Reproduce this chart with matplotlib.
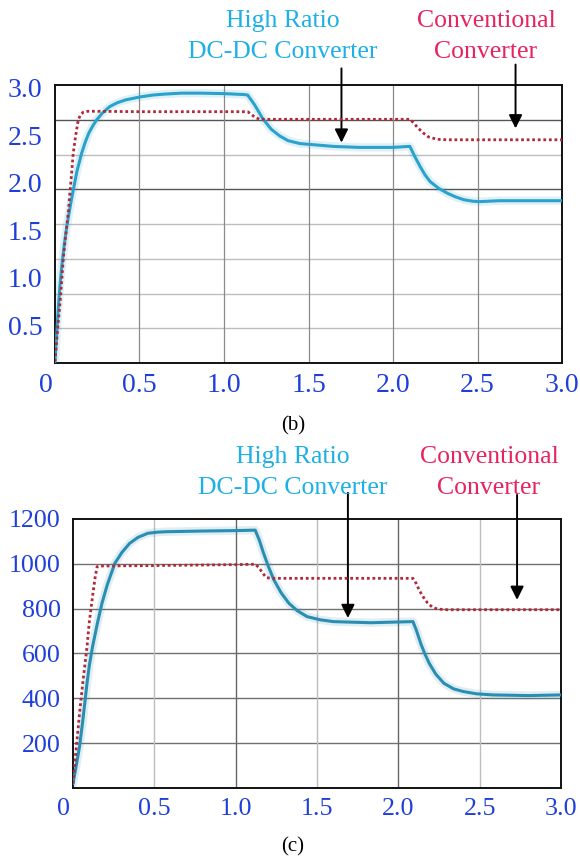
import matplotlib.pyplot as plt
import matplotlib.transforms as mtransforms
import numpy as np

# (b) top panel, values in label units
hr_b_x = [0.0, 0.01, 0.02, 0.03, 0.04, 0.055, 0.07, 0.09, 0.108, 0.13, 0.158, 0.18, 0.2,
          0.225, 0.247, 0.28, 0.325, 0.37, 0.42, 0.503, 0.58, 0.65, 0.75, 0.858, 1.0, 1.12,
          1.14, 1.18, 1.23, 1.28, 1.33, 1.38, 1.45, 1.55, 1.65, 1.8, 2.0, 2.09, 2.10,
          2.13, 2.16, 2.19, 2.22, 2.27, 2.32, 2.37, 2.42, 2.47, 2.51, 2.63, 3.0]
hr_b_y = [0.12, 0.40, 0.70, 0.93, 1.12, 1.35, 1.54, 1.75, 1.92, 2.12, 2.31, 2.43, 2.52,
          2.60, 2.66, 2.73, 2.80, 2.84, 2.87, 2.90, 2.92, 2.93, 2.94, 2.94, 2.935, 2.925,
          2.92, 2.82, 2.67, 2.56, 2.49, 2.44, 2.41, 2.395, 2.38, 2.37, 2.37, 2.38, 2.38,
          2.27, 2.17, 2.08, 2.01, 1.94, 1.89, 1.85, 1.82, 1.805, 1.80, 1.81, 1.81]
conv_b_x = [0.0, 0.015, 0.03, 0.05, 0.065, 0.08, 0.095, 0.108, 0.123, 0.138, 0.15, 0.167,
            0.197, 0.5, 1.0, 1.14, 1.16, 1.18, 1.21, 2.10, 2.12, 2.15, 2.18, 2.21, 2.26,
            2.32, 3.0]
conv_b_y = [0.12, 0.45, 0.74, 1.22, 1.47, 1.71, 2.03, 2.31, 2.50, 2.66, 2.71, 2.74,
            2.75, 2.745, 2.745, 2.745, 2.72, 2.69, 2.665, 2.665, 2.63, 2.57, 2.52, 2.48, 2.455,
            2.45, 2.45]

# (c) bottom panel
hr_c_x = [0.0, 0.02, 0.04, 0.06, 0.086, 0.1, 0.12, 0.15, 0.178, 0.21, 0.257, 0.3, 0.348,
          0.4, 0.46, 0.52, 0.576, 0.8, 1.0, 1.12, 1.145, 1.17, 1.2, 1.235, 1.28, 1.327, 1.38,
          1.44, 1.52, 1.60, 1.83, 2.09, 2.11, 2.14, 2.165, 2.19, 2.23, 2.28, 2.34, 2.40, 2.48,
          2.58, 2.8, 3.0]
hr_c_y = [20, 100, 184, 300, 467, 545, 630, 735, 824, 905, 1002, 1050, 1091,
          1118, 1136, 1141, 1143, 1146, 1148, 1150, 1106, 1050, 990, 928, 870, 824, 790,
          764, 750, 742, 737, 742, 705, 640, 595, 556, 508, 467, 442, 430, 420,
          415, 412, 415]
conv_c_x = [0.0, 0.02, 0.04, 0.06, 0.086, 0.1, 0.12, 0.135, 0.148, 0.17, 0.5, 1.0, 1.12,
            1.14, 1.16, 1.175, 1.19, 1.22, 2.09, 2.11, 2.13, 2.155, 2.18, 2.21, 2.24, 2.3, 3.0]
conv_c_y = [20, 180, 333, 470, 630, 740, 854, 935, 987, 990, 992, 996, 998,
            985, 965, 950, 938, 935, 935, 912, 880, 850, 825, 806, 798, 795, 795]

x_ticks = [0, 0.5, 1.0, 1.5, 2.0, 2.5, 3.0]
x_labels = ['0', '0.5', '1.0', '1.5', '2.0', '2.5', '3.0']
yb_ticks = [0.5, 1.0, 1.5, 2.0, 2.5, 3.0]
yb_labels = ['0.5', '1.0', '1.5', '2.0', '2.5', '3.0']
yc_ticks = [200, 400, 600, 800, 1000, 1200]

plt.rcParams['font.family'] = ['Liberation Serif', 'DejaVu Serif']

tick_blue = '#1f3fd8'
hr_text = '#1db0e6'
conv_text = '#e8245f'
hr_line = '#2aa2cc'
hr_line_c = '#2a8db2'
conv_line = '#b02a3a'

fig = plt.figure(figsize=(5.8, 8.59), dpi=100)
ax1 = fig.add_axes([0.0948, 0.5774, 0.8742, 0.3236])
ax2 = fig.add_axes([0.1259, 0.0827, 0.8413, 0.3132])


def style(ax, ylim, size):
    ax.set_xlim(0, 3.0)
    ax.set_ylim(*ylim)
    ax.set_xticks(x_ticks)
    ax.set_xticklabels(x_labels)
    ax.tick_params(length=0, labelsize=size, labelcolor=tick_blue)
    ax.tick_params(axis='x', pad=7)
    ax.tick_params(axis='y', pad=9)
    for s in ax.spines.values():
        s.set_linewidth(1.4)
        s.set_color('#111111')


def nudge(label, dx):
    label.set_transform(label.get_transform() +
                        mtransforms.ScaledTranslation(dx / 72, 0, fig.dpi_scale_trans))


# top panel
style(ax1, (0.105, 3.025), 20)
ax1.set_yticks(yb_ticks)
ax1.set_yticklabels(yb_labels)
hlines = np.linspace(0.105, 3.025, 9)[1:-1]
for i, h in enumerate(hlines[::-1]):
    ax1.axhline(h, color='#555555' if i in (0, 2) else '#bdbdbd', lw=1.0, zorder=1)
for xv in x_ticks[1:-1]:
    ax1.axvline(xv, color='#8a8a8a', lw=0.9, zorder=1)
ax1.plot(hr_b_x, hr_b_y, color=hr_line, lw=6, alpha=0.15, zorder=2)
ax1.plot(hr_b_x, hr_b_y, color=hr_line, lw=2.2, zorder=3)
ax1.plot(conv_b_x, conv_b_y, color=conv_line, lw=2.0, ls=(0, (1, 1)), zorder=4)

# bottom panel
style(ax2, (0, 1200), 18.7)
ax2.set_yticks(yc_ticks)
ax2.set_yticklabels([str(v) for v in yc_ticks])
for h in yc_ticks[:-1]:
    ax2.axhline(h, color='#707070', lw=1.0, zorder=1)
for xv in x_ticks[1:-1]:
    ax2.axvline(xv, color='#666666' if xv in (1.0, 2.0) else '#bdbdbd', lw=1.0, zorder=1)
ax2.plot(hr_c_x, hr_c_y, color=hr_line_c, lw=6, alpha=0.15, zorder=2)
ax2.plot(hr_c_x, hr_c_y, color=hr_line_c, lw=2.2, zorder=3)
ax2.plot(conv_c_x, conv_c_y, color=conv_line, lw=2.0, ls=(0, (1, 1)), zorder=4)

# shift the first labels a little, as in the original figure
nudge(ax1.get_xticklabels()[0], -6.5)
nudge(ax2.get_xticklabels()[0], -7)

# labels
fs = 18.5
fig.text(0.488, 0.976, 'High Ratio', color=hr_text, fontsize=fs, ha='center', va='center')
fig.text(0.488, 0.940, 'DC-DC Converter', color=hr_text, fontsize=fs, ha='center', va='center')
fig.text(0.838, 0.976, 'Conventional', color=conv_text, fontsize=fs, ha='center', va='center')
fig.text(0.838, 0.940, 'Converter', color=conv_text, fontsize=fs, ha='center', va='center')
fig.text(0.5045, 0.468, 'High Ratio', color=hr_text, fontsize=fs, ha='center', va='center')
fig.text(0.5045, 0.432, 'DC-DC Converter', color=hr_text, fontsize=fs, ha='center', va='center')
fig.text(0.843, 0.468, 'Conventional', color=conv_text, fontsize=fs, ha='center', va='center')
fig.text(0.843, 0.432, 'Converter', color=conv_text, fontsize=fs, ha='center', va='center')
fig.text(0.505, 1 - 426 / 859, '(b)', fontsize=15, ha='center', va='center')
fig.text(0.505, 1 - 846.7 / 859, '(c)', fontsize=15, ha='center', va='center')

arrow = dict(arrowstyle='-|>', color='black', lw=1.4, mutation_scale=20, shrinkA=0, shrinkB=0)
ax1.annotate('', xy=(1.695, 2.42), xytext=(1.695, 3.20), arrowprops=arrow, annotation_clip=False)
ax1.annotate('', xy=(2.725, 2.57), xytext=(2.725, 3.24), arrowprops=arrow, annotation_clip=False)
ax2.annotate('', xy=(1.69, 758), xytext=(1.69, 1316), arrowprops=arrow, annotation_clip=False)
ax2.annotate('', xy=(2.73, 839), xytext=(2.73, 1307), arrowprops=arrow, annotation_clip=False)

fig.savefig('out.png', dpi=100)
